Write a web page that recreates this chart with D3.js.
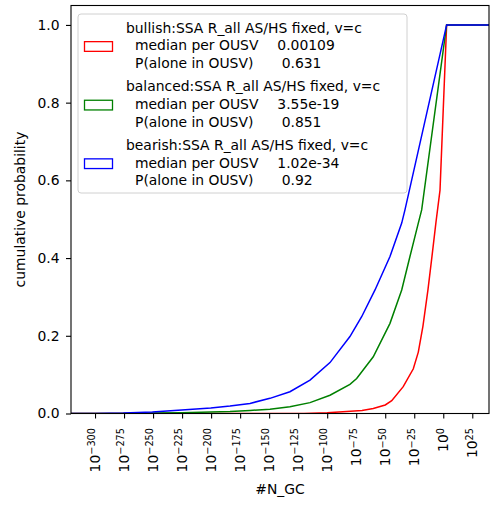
<!DOCTYPE html>
<html>
<head>
<meta charset="utf-8">
<script src="https://cdn.jsdelivr.net/npm/d3@7"></script>
<style>
  body { margin: 0; background: #fff; }
  svg text { font-family: "DejaVu Sans", sans-serif; }
</style>
</head>
<body>
<div id="chart"></div>
<script>
// x values are stored as log10(#N_GC), y as cumulative probability
const redExp  = [-330, -120, -100, -83.2, -70, -60.3, -50, -44.4, -34.5, -25.8, -21.5, -17.5, -13.2, -9.7, -6.3, -2.8, 2.9, 50];
const redProb = [0, 0, 0.002, 0.005, 0.008, 0.013, 0.022, 0.033, 0.069, 0.115, 0.158, 0.225, 0.318, 0.405, 0.492, 0.575, 1.0, 1.0];

const greenExp  = [-330, -260, -250.6, -225.3, -200.3, -183.7, -166.5, -149.3, -132.1, -114.8, -97.6, -80.4, -74.6, -60.3, -45.9, -35.8, -28.7, -21.5, -18.6, 2.9, 50];
const greenProb = [0, 0, 0.001, 0.002, 0.004, 0.005, 0.008, 0.011, 0.0175, 0.028, 0.047, 0.075, 0.09, 0.146, 0.232, 0.318, 0.404, 0.49, 0.524, 1.0, 1.0];

const blueExp  = [-330, -300, -275.6, -250.6, -225.3, -200.3, -183.7, -166.5, -149.3, -132.1, -114.8, -97.6, -80.4, -70.3, -58.8, -45.9, -35.8, -33.0, 2.9, 50];
const blueProb = [0, 0, 0.001, 0.004, 0.009, 0.014, 0.019, 0.026, 0.039, 0.056, 0.086, 0.131, 0.198, 0.249, 0.318, 0.404, 0.490, 0.524, 1.0, 1.0];

const seriesNames = ["bullish", "balanced", "bearish"];
const seriesColors = ["#ff0000", "#008000", "#0000ff"];
const medians = ["0.00109", "3.55e-19", "1.02e-34"];
const pAlone = ["0.631", "0.851", "0.92"];

const xTickExps = [-300, -275, -250, -225, -200, -175, -150, -125, -100, -75, -50, -25, 0, 25];
const yTicks = [0, 0.2, 0.4, 0.6, 0.8, 1.0];

const W = 499, H = 508;
const plotLeft = 71, plotRight = 489, plotTop = 5.5, plotBottom = 413.5;
const fs = 13.9;

const svg = d3.select("#chart").append("svg")
  .attr("width", W)
  .attr("height", H);

const x = d3.scaleLinear().domain([-320.7, 39.4]).range([plotLeft, plotRight]);
const y = d3.scaleLinear().domain([0, 1.05]).range([plotBottom, plotTop]);

svg.append("clipPath").attr("id", "plotclip")
  .append("rect")
  .attr("x", plotLeft).attr("y", plotTop)
  .attr("width", plotRight - plotLeft).attr("height", plotBottom - plotTop);

// curves
const series = [
  { exp: redExp, prob: redProb },
  { exp: greenExp, prob: greenProb },
  { exp: blueExp, prob: blueProb }
];
const line = d3.line().x(d => x(d[0])).y(d => y(d[1]));
series.forEach((s, i) => {
  const pts = s.exp.map((e, j) => [e, s.prob[j]]);
  svg.append("path")
    .datum(pts)
    .attr("clip-path", "url(#plotclip)")
    .attr("fill", "none")
    .attr("stroke", seriesColors[i])
    .attr("stroke-width", 1.5)
    .attr("d", line);
});

// x axis
const xAxis = svg.append("g")
  .attr("transform", `translate(0,${plotBottom})`)
  .call(d3.axisBottom(x).tickValues(xTickExps).tickSize(5).tickFormat(""));
xAxis.select(".domain").remove();
xAxis.selectAll(".tick line").attr("stroke", "#000").attr("stroke-width", 1.1);
xAxis.selectAll(".tick").each(function(d) {
  const t = d3.select(this).select("text");
  t.text(null)
    .attr("transform", "rotate(-90)")
    .attr("x", -14.5)
    .attr("y", 0)
    .attr("dy", "0.3em")
    .attr("text-anchor", "end")
    .attr("fill", "#000")
    .style("font-size", fs + "px");
  t.append("tspan").text("10");
  t.append("tspan")
    .attr("dy", "-0.45em")
    .style("font-size", (fs * 0.7) + "px")
    .text(d > 0 ? String(d) : (d === 0 ? "0" : "\u2212" + Math.abs(d)));
});

// y axis
const yAxis = svg.append("g")
  .attr("transform", `translate(${plotLeft},0)`)
  .call(d3.axisLeft(y).tickValues(yTicks).tickSize(5).tickPadding(6.5).tickFormat(d3.format(".1f")));
yAxis.select(".domain").remove();
yAxis.selectAll(".tick line").attr("stroke", "#000").attr("stroke-width", 1.1);
yAxis.selectAll(".tick text")
  .attr("fill", "#000")
  .style("font-size", fs + "px");

// frame
svg.append("rect")
  .attr("x", plotLeft).attr("y", plotTop)
  .attr("width", plotRight - plotLeft).attr("height", plotBottom - plotTop)
  .attr("fill", "none")
  .attr("stroke", "#000")
  .attr("stroke-width", 1.1);

// axis labels
svg.append("text")
  .attr("x", (plotLeft + plotRight) / 2)
  .attr("y", 494)
  .attr("text-anchor", "middle")
  .style("font-size", fs + "px")
  .text("#N_GC");

svg.append("text")
  .attr("transform", `translate(20,${(plotTop + plotBottom) / 2}) rotate(-90)`)
  .attr("dy", "0.35em")
  .attr("text-anchor", "middle")
  .style("font-size", fs + "px")
  .text("cumulative probability");

// legend
const legend = svg.append("g");
legend.append("rect")
  .attr("x", 78).attr("y", 14)
  .attr("width", 329).attr("height", 179)
  .attr("rx", 3)
  .attr("fill", "#fff")
  .attr("fill-opacity", 0.8)
  .attr("stroke", "#d0d0d0")
  .attr("stroke-width", 1);

seriesNames.forEach((name, i) => {
  const y0 = 27.7 + i * 58.6;
  const lines = [
    [`${name}:SSA R_all AS/HS fixed, v=c`, null, 0],
    ["median per OUSV", medians[i], 277.3],
    ["P(alone in OUSV)", pAlone[i], 281.7]
  ];
  lines.forEach((l, k) => {
    const t = legend.append("text")
      .attr("y", y0 + k * 17.8)
      .attr("dy", "0.35em")
      .style("font-size", fs + "px")
      .attr("fill", "#000");
    t.append("tspan").attr("x", k === 0 ? 126 : 135).text(l[0]);
    if (l[1] !== null) t.append("tspan").attr("x", l[2]).text(l[1]);
  });
  legend.append("rect")
    .attr("x", 84.5)
    .attr("y", y0 + 17.8 + 1 - 4.85)
    .attr("width", 28)
    .attr("height", 9.7)
    .attr("fill", "none")
    .attr("stroke", seriesColors[i])
    .attr("stroke-width", 1.3);
});
</script>
</body>
</html>
